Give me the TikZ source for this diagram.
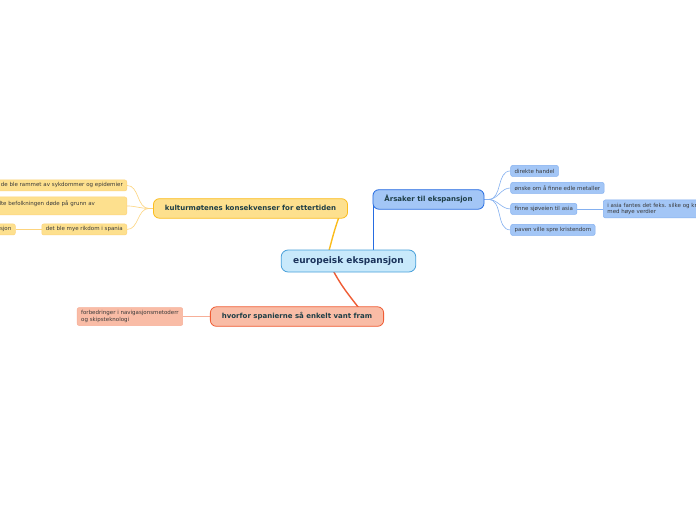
\documentclass[tikz,border=0pt]{standalone}
\usepackage{fontspec}
\setmainfont{DejaVu Sans}
\usepackage{tikz}
\usetikzlibrary{positioning}
\usetikzlibrary{backgrounds}
\definecolor{cenfill}{RGB}{200,233,251}
\definecolor{cenline}{RGB}{72,160,218}
\definecolor{centext}{RGB}{28,52,92}
\definecolor{blufill}{RGB}{163,198,246}
\definecolor{bluline}{RGB}{38,108,225}
\definecolor{blusub}{RGB}{132,176,240}
\definecolor{golfill}{RGB}{253,224,142}
\definecolor{golline}{RGB}{251,188,28}
\definecolor{golsub}{RGB}{253,212,125}
\definecolor{salfill}{RGB}{249,188,166}
\definecolor{salline}{RGB}{239,92,52}
\definecolor{salsub}{RGB}{247,175,152}
\definecolor{headtext}{RGB}{30,62,70}
\definecolor{subtext}{RGB}{58,58,58}

\begin{document}
\begin{tikzpicture}[
x=1pt, y=1pt,
every node/.style={rounded corners=2pt, text=subtext, font=\fontsize{5.5}{6.6}\selectfont, inner xsep=4pt, inner ysep=0pt, minimum height=11pt, line width=0.5pt},
topic/.style={draw=cenline, fill=cenfill, rounded corners=7pt, minimum height=22pt, inner xsep=12pt, line width=0.8pt, text=centext, font=\bfseries\fontsize{9}{10.8}\selectfont},
branch/.style={rounded corners=6pt, minimum height=19.5pt, inner xsep=11.5pt, line width=0.8pt, text=headtext, font=\bfseries\fontsize{7}{8.4}\selectfont},
bleaf/.style={draw=blusub, fill=blufill},
gleaf/.style={draw=golsub, fill=golfill},
sleaf/.style={draw=salsub, fill=salfill},
trunk/.style={line width=1.4pt},
twig/.style={line width=0.6pt}
]
\useasboundingbox (-348.5,-259) rectangle (347.5,261);
\clip (-348.5,-259) rectangle (347.5,261);

\node[topic] (cen) at (0,0) {europeisk ekspansjon};
\node[branch, draw=bluline, fill=blufill, above=40pt of cen, xshift=80pt] (ars) {Årsaker til ekspansjon};
\node[branch, draw=golline, fill=golfill, above=31pt of cen, xshift=-98pt] (kul) {kulturmøtenes konsekvenser for ettertiden};
\node[branch, draw=salline, fill=salfill, below=34pt of cen, xshift=-51.5pt] (hvo) {hvorfor spanierne så enkelt vant fram};

\node[bleaf, right=26pt of ars, yshift=28.5pt] (dir) {direkte handel};
\node[bleaf, right=26pt of ars, yshift=11.5pt] (edl) {ønske om å finne edle metaller};
\node[bleaf, right=26pt of ars, yshift=-9.5pt] (sjo) {finne sjøveien til asia};
\node[bleaf, right=26pt of ars, yshift=-30.5pt] (kri) {paven ville spre kristendom};
\node[bleaf, right=26pt of sjo, align=left, minimum height=18pt] (sil) {i asia fantes det feks. silke og krydder\\med høye verdier};

\node[gleaf, left=26pt of kul, yshift=23pt, text width=150pt, align=right] (syk) {de ble rammet av sykdommer og epidemier};
\node[gleaf, left=26pt of kul, yshift=2.5pt, text width=139pt, align=left, minimum height=18pt] (bef) {innfødte befolkningen døde på grunn av\\\mbox{}};
\node[gleaf, left=26pt of kul, yshift=-21pt] (rik) {det ble mye rikdom i spania};
\node[gleaf, left=26pt of rik, text width=40pt, align=right] (sjn) {sjon};

\node[sleaf, left=27pt of hvo, align=left, minimum height=18pt] (nav) {forbedringer i navigasjonsmetoderr\\og skipsteknologi};

\coordinate (arstop) at ([xshift=1pt, yshift=6pt]ars.south west);
\coordinate (arsfoot) at (arstop |- cen.center);

\begin{scope}[on background layer]
\fill[white] (-348.5,-259) rectangle (347.5,261);
\draw[trunk, bluline] (arstop) -- (arsfoot);
\draw[trunk, golline] ([xshift=-20pt, yshift=-3pt]cen.north) to[out=75, in=-110] ([xshift=89pt, yshift=3pt]kul.south);
\draw[trunk, salline] ([xshift=-16pt, yshift=3pt]cen.south) to[out=-62, in=128] ([xshift=63pt, yshift=-3pt]hvo.north);

\foreach \t in {dir,edl,sjo,kri}
  \draw[twig, blusub] (ars.east) -- ++(4pt,0) to[out=0, in=180] (\t.west);
\draw[twig, blusub] (sjo.east) -- (sil.west);

\foreach \t in {syk,bef,rik}
  \draw[twig, golsub] (kul.west) -- ++(-4pt,0) to[out=180, in=0] (\t.east);
\draw[twig, golsub] (rik.west) -- (sjn.east);

\draw[twig, salsub] (hvo.west) -- (nav.east);
\end{scope}
\end{tikzpicture}
\end{document}
